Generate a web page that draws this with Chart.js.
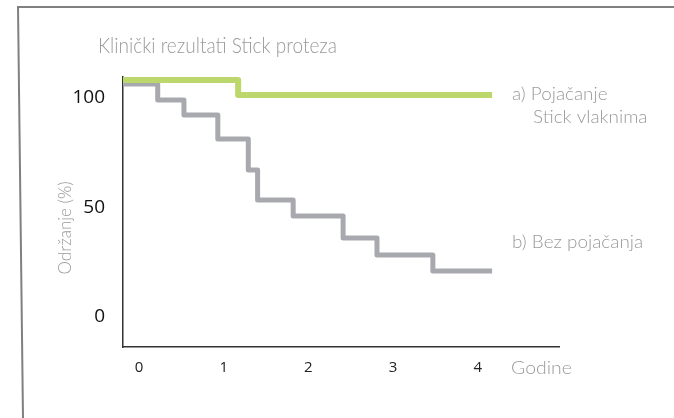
<!DOCTYPE html>
<html>
<head>
<meta charset="utf-8">
<script src="https://cdn.jsdelivr.net/npm/chart.js@4/dist/chart.umd.min.js"></script>
<style>
  html, body { margin: 0; padding: 0; background: #fff; }
  #wrap { width: 674px; height: 418px; position: relative; }
</style>
</head>
<body>
<div id="wrap"><canvas id="chart" width="674" height="418"></canvas></div>
<script>
// Podaci očitani sa slike (godine / održanje %)
const greenYears = [-0.19, 1.17, 4.17];
const greenValues = [108.2, 101.4, 101.4];
const greyYears = [-0.19, 0.22, 0.53, 0.93, 1.29, 1.40, 1.82, 2.41, 2.81, 3.47, 4.17];
const greyValues = [106.4, 99.1, 92.2, 81.3, 67.1, 53.4, 46.1, 36.1, 28.3, 21.0, 21.0];
const xTicks = [0, 1, 2, 3, 4];
const yTicks = [0, 50, 100];

const titleText = 'Klinički rezultati Stick proteza';
const yTitle = 'Održanje (%)';
const xTitle = 'Godine';
const labelA = ['a) Pojačanje', 'Stick vlaknima'];
const labelB = 'b) Bez pojačanja';

const GREEN = '#bcd86c';
const GREY = '#a8a9ae';
const TEXT_GREY = '#9a9a9a';
const LIGHT_FONT = '"Lato", "Open Sans", sans-serif';

const toPoints = (xs, ys) => xs.map((x, i) => ({ x: x, y: ys[i] }));

// tekst malo razvučen/sužen vodoravno da odgovara originalnom fontu
function scaledText(c, text, x, y, sx) {
    c.save();
    c.translate(x, y);
    c.scale(sx, 1);
    c.fillText(text, 0, 0);
    c.restore();
}

// okvir, naslov i oznake serija
const decorPlugin = {
    id: 'decor',
    afterDraw(chart) {
        const c = chart.ctx;
        c.save();
        c.strokeStyle = '#808080';
        c.lineWidth = 2;
        c.beginPath();
        c.moveTo(17, 7);
        c.lineTo(674, 7);
        c.stroke();
        c.beginPath();
        c.moveTo(18, 6);
        c.lineTo(23, 418);
        c.stroke();

        c.fillStyle = TEXT_GREY;
        c.textAlign = 'left';
        c.textBaseline = 'alphabetic';
        c.font = '300 22px ' + LIGHT_FONT;
        scaledText(c, titleText, 98, 53, 0.865);

        c.font = '300 18px ' + LIGHT_FONT;
        scaledText(c, labelA[0], 512, 100, 1.05);
        scaledText(c, labelA[1], 533, 123, 1.05);
        scaledText(c, labelB, 512, 248, 1.05);
        scaledText(c, xTitle, 511, 374, 1.08);

        c.translate(71, 228);
        c.rotate(-Math.PI / 2);
        c.textAlign = 'center';
        c.font = '300 17px ' + LIGHT_FONT;
        c.fillText(yTitle, 0, 0);
        c.restore();
    }
};

new Chart(document.getElementById('chart'), {
    type: 'line',
    data: {
        datasets: [
            {
                label: 'b) Bez pojačanja',
                data: toPoints(greyYears, greyValues),
                borderColor: GREY,
                borderWidth: 5,
                stepped: 'before',
                borderCapStyle: 'butt',
                borderJoinStyle: 'round',
                pointRadius: 0,
                fill: false,
                order: 2
            },
            {
                label: 'a) Pojačanje Stick vlaknima',
                data: toPoints(greenYears, greenValues),
                borderColor: GREEN,
                borderWidth: 6,
                stepped: 'before',
                borderCapStyle: 'butt',
                borderJoinStyle: 'round',
                pointRadius: 0,
                fill: false,
                order: 1
            }
        ]
    },
    options: {
        responsive: false,
        animation: false,
        layout: { padding: { top: 77, right: 115, left: 0, bottom: 0 } },
        plugins: {
            legend: { display: false },
            title: { display: false },
            tooltip: { enabled: false }
        },
        scales: {
            x: {
                type: 'linear',
                min: -0.19,
                max: 4.96,
                afterBuildTicks: s => { s.ticks = xTicks.map(v => ({ value: v })); },
                afterFit: s => { s.height = 71; },
                grid: { display: false, drawTicks: false },
                border: { display: true, color: '#333', width: 1.5 },
                ticks: {
                    padding: 12,
                    color: '#222',
                    font: { family: '"Open Sans", sans-serif', size: 15 }
                }
            },
            y: {
                min: -13.7,
                max: 109.6,
                afterBuildTicks: s => { s.ticks = yTicks.map(v => ({ value: v })); },
                afterFit: s => { s.width = 123; },
                grid: { display: false, drawTicks: false },
                border: { display: true, color: '#333', width: 1.5 },
                ticks: {
                    padding: 18,
                    color: '#111',
                    font: { family: '"Open Sans", sans-serif', size: 19 }
                }
            }
        }
    },
    plugins: [decorPlugin]
});
</script>
</body>
</html>
